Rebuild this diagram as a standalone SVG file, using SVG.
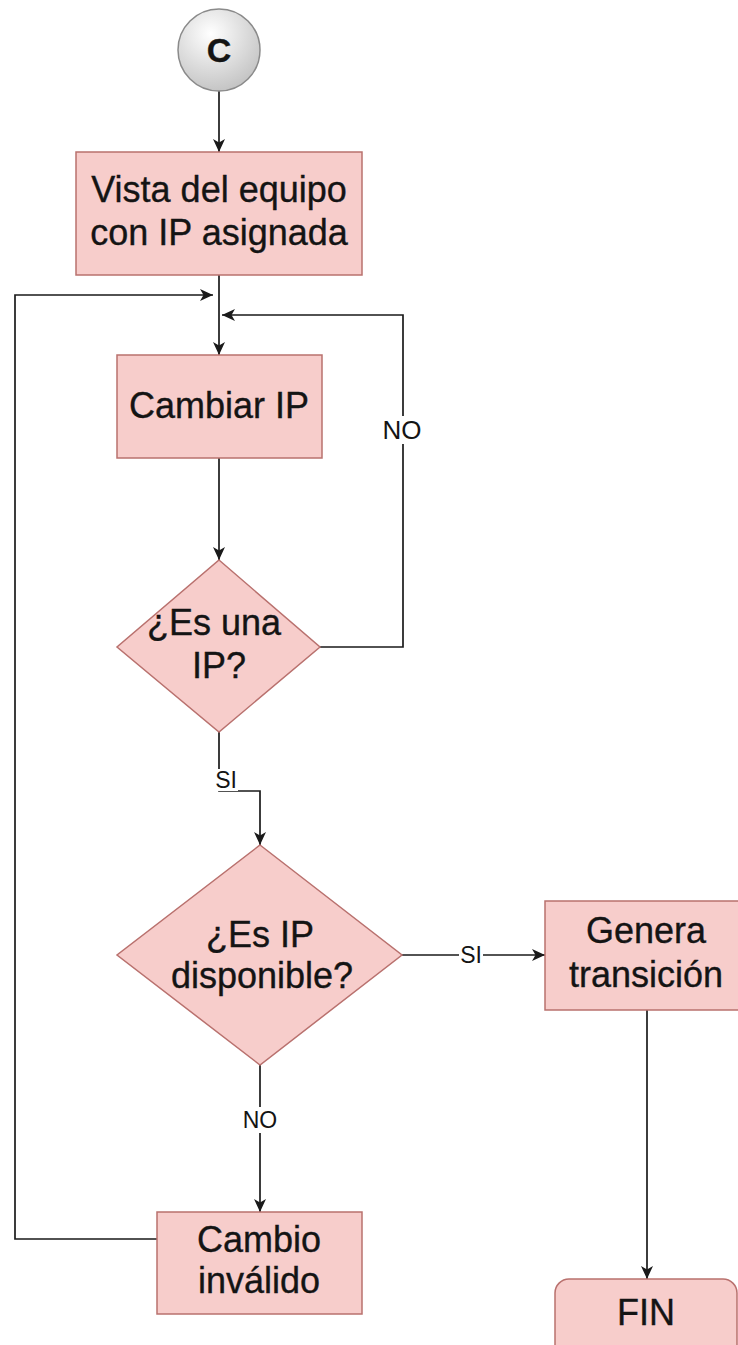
<svg xmlns="http://www.w3.org/2000/svg" width="738" height="1345" viewBox="0 0 738 1345">
<defs>
<style>
.box{fill:#f7cdcb;stroke:#b9716e;stroke-width:1.5}
.t{font-family:"Liberation Sans",Arial,Helvetica,sans-serif;font-size:36px;fill:#141414;stroke:#141414;stroke-width:0.35;text-anchor:middle}
.lbl{font-family:"Liberation Sans",Arial,Helvetica,sans-serif;font-size:23px;fill:#141414;text-anchor:middle}
.c{fill:none;stroke:#1a1a1a;stroke-width:1.7}
.bg{fill:#ffffff}
</style>
<marker id="arr" markerUnits="userSpaceOnUse" markerWidth="14" markerHeight="12" refX="13" refY="6" orient="auto">
<path d="M0,0 L13,6 L0,12 L3.5,6 Z" fill="#1a1a1a"/>
</marker>
<radialGradient id="gc" cx="0.4" cy="0.3" r="0.8">
<stop offset="0" stop-color="#ffffff"/>
<stop offset="1" stop-color="#bdbdbd"/>
</radialGradient>
</defs>
<rect width="738" height="1345" fill="#ffffff"/>
<g id="connectors">
<path class="c" d="M219,91 L219,152" marker-end="url(#arr)"/>
<path class="c" d="M219,275 L219,355" marker-end="url(#arr)"/>
<path class="c" d="M219,458 L219,560" marker-end="url(#arr)"/>
<path class="c" d="M320,647 L403,647 L403,315 L222,315" marker-end="url(#arr)"/>
<rect class="bg" x="380" y="416" width="44" height="28"/>
<text class="lbl" x="402" y="439" style="font-size:26px">NO</text>
<path class="c" d="M219,732 L219,791 L260,791 L260,845" marker-end="url(#arr)"/>
<rect class="bg" x="212" y="769" width="26" height="22"/>
<text class="lbl" x="226" y="788">SI</text>
<path class="c" d="M402,955 L545,955" marker-end="url(#arr)"/>
<rect class="bg" x="459" y="943" width="24" height="24"/>
<text class="lbl" x="471" y="963">SI</text>
<path class="c" d="M260,1065 L260,1212" marker-end="url(#arr)"/>
<rect class="bg" x="242" y="1107" width="36" height="26"/>
<text class="lbl" x="260" y="1128">NO</text>
<path class="c" d="M157,1239 L15,1239 L15,295 L213,295" marker-end="url(#arr)"/>
<path class="c" d="M647,1010 L647,1279" marker-end="url(#arr)"/>
</g>
<g id="node-c">
<circle cx="219" cy="50" r="41" fill="url(#gc)" stroke="#8a8a8a" stroke-width="1.5"/>
<text class="t" x="219" y="62" style="font-weight:bold;font-size:34px">C</text>
</g>
<g id="node-vista">
<rect class="box" x="76" y="152" width="286" height="123"/>
<text class="t" x="219" y="202">Vista del equipo</text>
<text class="t" x="219" y="245">con IP asignada</text>
</g>
<g id="node-cambiar">
<rect class="box" x="117" y="355" width="205" height="103"/>
<text class="t" x="219" y="418">Cambiar IP</text>
</g>
<g id="node-esuna">
<polygon class="box" points="219,560 320,647 219,732 117,647"/>
<text class="t" x="214" y="635">¿Es una</text>
<text class="t" x="219" y="678">IP?</text>
</g>
<g id="node-disponible">
<polygon class="box" points="260,845 402,955 260,1065 117,955"/>
<text class="t" x="260" y="947">¿Es IP</text>
<text class="t" x="262" y="988">disponible?</text>
</g>
<g id="node-genera">
<rect class="box" x="545" y="901" width="205" height="109"/>
<text class="t" x="646" y="943">Genera</text>
<text class="t" x="646" y="987">transición</text>
</g>
<g id="node-cambio">
<rect class="box" x="157" y="1212" width="205" height="102"/>
<text class="t" x="259" y="1252">Cambio</text>
<text class="t" x="259" y="1293">inválido</text>
</g>
<g id="node-fin">
<rect class="box" x="555" y="1279" width="182" height="90" rx="14" ry="14"/>
<text class="t" x="646" y="1325">FIN</text>
</g>
</svg>
